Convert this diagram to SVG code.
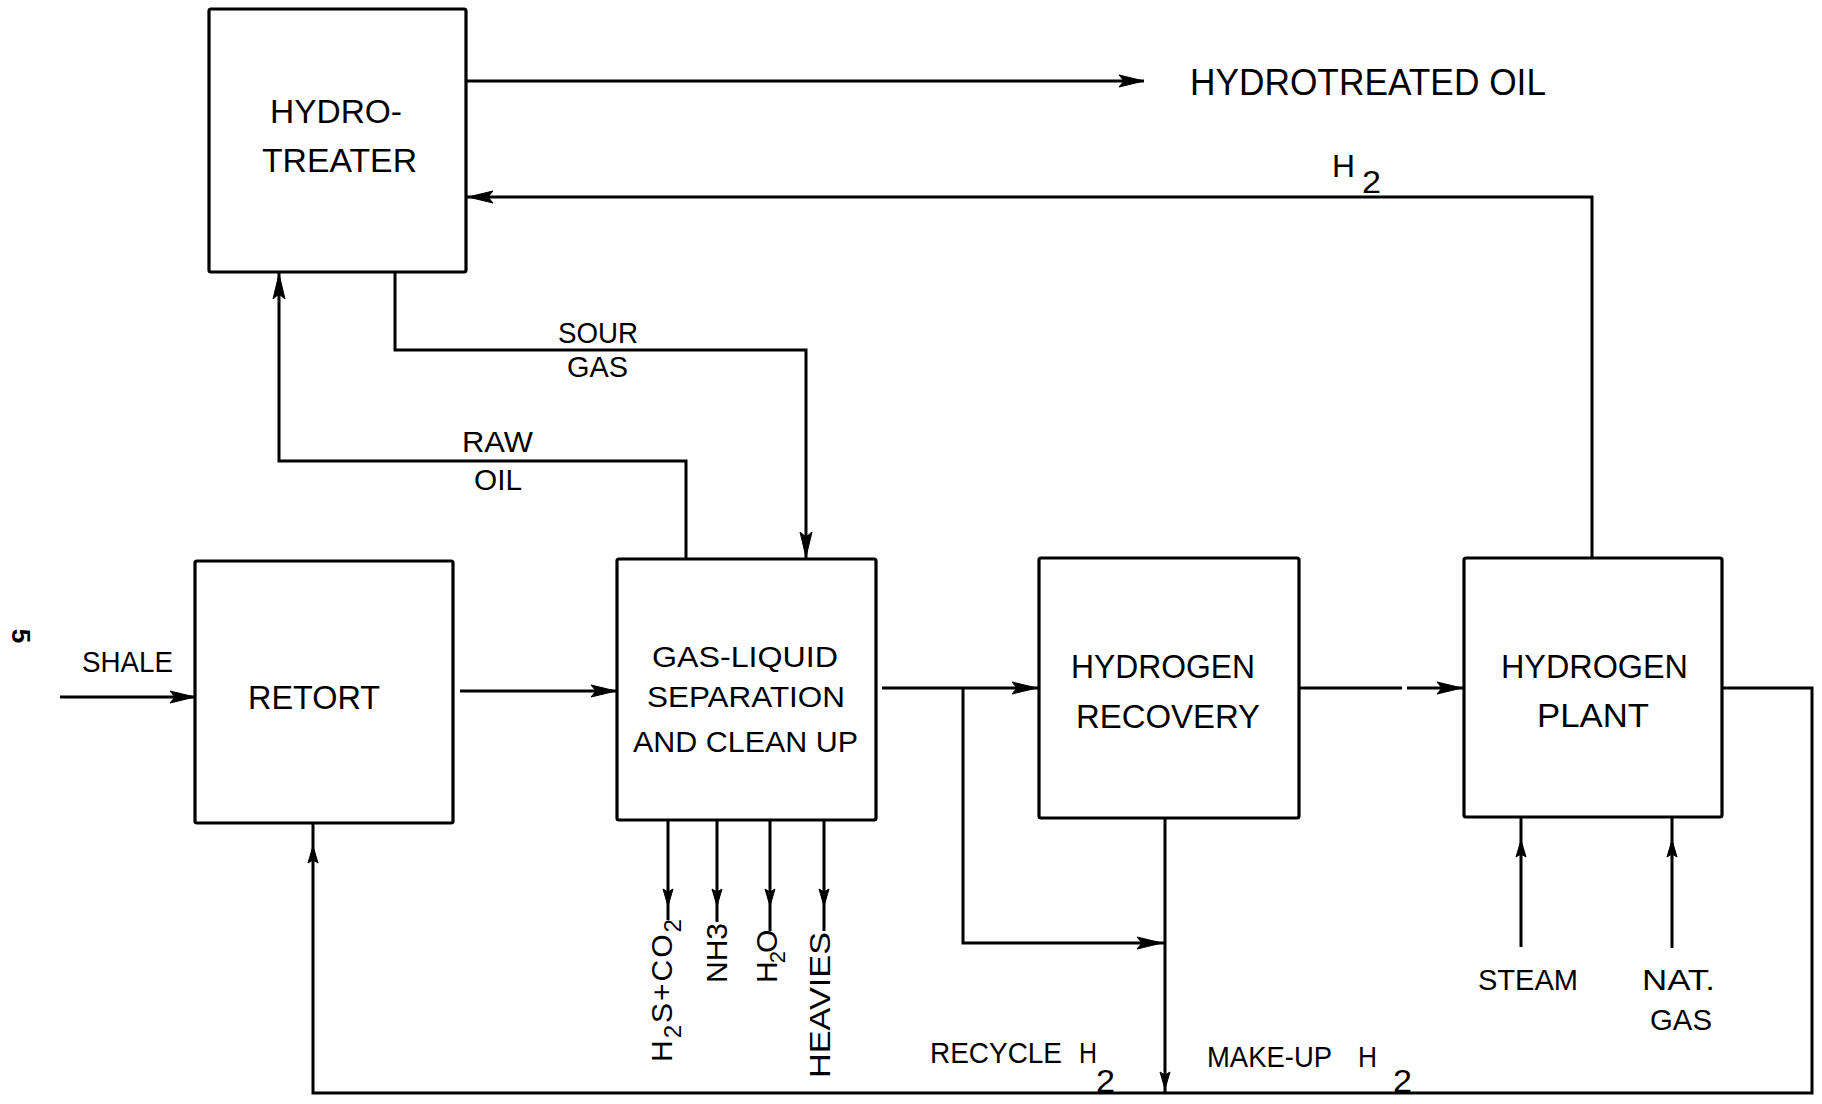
<svg xmlns="http://www.w3.org/2000/svg" xmlns:xlink="http://www.w3.org/1999/xlink" width="1822" height="1104" viewBox="0 0 1822 1104">
<style>
.box{fill:#fff;stroke:#000;stroke-width:3.2}
.ln{fill:none;stroke:#000;stroke-width:3}
.t{font-family:"Liberation Sans",Arial,sans-serif;fill:#000;font-size:34px}
.s{font-size:30px}
.ah{fill:#000;stroke:#000;stroke-width:1}
</style>
<defs>
<path id="ah" class="ah" d="M0,0 L-25,-6 L-20,0 L-25,6 Z"/>
<path id="ah2" class="ah" d="M0,0 L-17,-5 L-14,0 L-17,5 Z"/>
</defs>
<rect width="1822" height="1104" fill="#fff"/>

<g id="connectors">
<path class="ln" d="M60,697 H195"/>
<path class="ln" d="M460,691 H617"/>
<path class="ln" d="M882,688 H1039"/>
<path class="ln" d="M1298,688 H1402 M1407,688 H1463"/>
<path class="ln" d="M686,559 V461 H279 V272"/>
<path class="ln" d="M395,272 V350 H806 V559"/>
<path class="ln" d="M466,81 H1144"/>
<path class="ln" d="M1592,558 V197 H466"/>
<path class="ln" d="M668,820 V920 M717,820 V922 M770,820 V931 M824,820 V931"/>
<path class="ln" d="M963,688 V943 H1164"/>
<path class="ln" d="M1165,818 V1093"/>
<path class="ln" d="M1722,688 H1812 V1093 H313 V823"/>
<path class="ln" d="M1521,947 V817 M1672,948 V817"/>
<use xlink:href="#ah" transform="translate(195,697)"/>
<use xlink:href="#ah" transform="translate(616,691)"/>
<use xlink:href="#ah" transform="translate(1037,688)"/>
<use xlink:href="#ah" transform="translate(1462,688)"/>
<use xlink:href="#ah" transform="translate(279,274) rotate(-90)"/>
<use xlink:href="#ah" transform="translate(806,557) rotate(90)"/>
<use xlink:href="#ah" transform="translate(1144,81)"/>
<use xlink:href="#ah" transform="translate(468,197) rotate(180)"/>
<use xlink:href="#ah2" transform="translate(668,906) rotate(90)"/>
<use xlink:href="#ah2" transform="translate(717,906) rotate(90)"/>
<use xlink:href="#ah2" transform="translate(770,906) rotate(90)"/>
<use xlink:href="#ah2" transform="translate(824,906) rotate(90)"/>
<use xlink:href="#ah" transform="translate(1162,943)"/>
<use xlink:href="#ah2" transform="translate(1165,1089) rotate(90)"/>
<use xlink:href="#ah2" transform="translate(313,846) rotate(-90)"/>
<use xlink:href="#ah2" transform="translate(1521,840) rotate(-90)"/>
<use xlink:href="#ah2" transform="translate(1672,840) rotate(-90)"/>
</g>

<g id="hydrotreater">
<rect class="box" x="209" y="9" width="257" height="263" rx="2"/>
<text class="t" x="270" y="123" textLength="132" lengthAdjust="spacingAndGlyphs">HYDRO-</text>
<text class="t" x="262" y="172" textLength="155" lengthAdjust="spacingAndGlyphs">TREATER</text>
</g>

<g id="retort">
<rect class="box" x="195" y="561" width="258" height="262" rx="2"/>
<text class="t" x="248" y="709" textLength="132" lengthAdjust="spacingAndGlyphs">RETORT</text>
</g>

<g id="gas-liquid-separation">
<rect class="box" x="617" y="559" width="259" height="261" rx="2"/>
<text class="t s" x="652" y="667" textLength="186" lengthAdjust="spacingAndGlyphs">GAS-LIQUID</text>
<text class="t s" x="647" y="707" textLength="198" lengthAdjust="spacingAndGlyphs">SEPARATION</text>
<text class="t s" x="633" y="752" textLength="225" lengthAdjust="spacingAndGlyphs">AND CLEAN UP</text>
</g>

<g id="hydrogen-recovery">
<rect class="box" x="1039" y="558" width="260" height="260" rx="2"/>
<text class="t" x="1071" y="678" textLength="184" lengthAdjust="spacingAndGlyphs">HYDROGEN</text>
<text class="t" x="1076" y="728" textLength="184" lengthAdjust="spacingAndGlyphs">RECOVERY</text>
</g>

<g id="hydrogen-plant">
<rect class="box" x="1464" y="558" width="258" height="259" rx="2"/>
<text class="t" x="1501" y="678" textLength="187" lengthAdjust="spacingAndGlyphs">HYDROGEN</text>
<text class="t" x="1537" y="727" textLength="112" lengthAdjust="spacingAndGlyphs">PLANT</text>
</g>

<g id="labels">
<text class="t" x="1190" y="95" font-size="37" textLength="356" lengthAdjust="spacingAndGlyphs" style="font-size:37px">HYDROTREATED OIL</text>
<text class="t" x="1332" y="177" textLength="23" lengthAdjust="spacingAndGlyphs" style="font-size:32px">H</text>
<text class="t" x="1362" y="193" textLength="19" lengthAdjust="spacingAndGlyphs" style="font-size:32px">2</text>
<text class="t s" x="82" y="672" textLength="91" lengthAdjust="spacingAndGlyphs">SHALE</text>
<text class="t s" x="558" y="343" textLength="80" lengthAdjust="spacingAndGlyphs">SOUR</text>
<text class="t s" x="567" y="377" textLength="61" lengthAdjust="spacingAndGlyphs">GAS</text>
<text class="t s" x="462" y="452" textLength="71" lengthAdjust="spacingAndGlyphs">RAW</text>
<text class="t s" x="474" y="490" textLength="48" lengthAdjust="spacingAndGlyphs">OIL</text>
<text class="t s" x="1478" y="990" textLength="100" lengthAdjust="spacingAndGlyphs">STEAM</text>
<text class="t s" x="1642" y="990" textLength="73" lengthAdjust="spacingAndGlyphs">NAT.</text>
<text class="t s" x="1650" y="1030" textLength="62" lengthAdjust="spacingAndGlyphs">GAS</text>
<text class="t s" x="930" y="1063" textLength="132" lengthAdjust="spacingAndGlyphs">RECYCLE</text>
<text class="t s" x="1079" y="1063" textLength="18" lengthAdjust="spacingAndGlyphs">H</text>
<text class="t" x="1096" y="1092" textLength="19" lengthAdjust="spacingAndGlyphs" style="font-size:32px">2</text>
<text class="t s" x="1207" y="1067" textLength="125" lengthAdjust="spacingAndGlyphs">MAKE-UP</text>
<text class="t s" x="1358" y="1067" textLength="19" lengthAdjust="spacingAndGlyphs">H</text>
<text class="t" x="1393" y="1092" textLength="19" lengthAdjust="spacingAndGlyphs" style="font-size:32px">2</text>
<text class="t s" transform="translate(672,1062) rotate(-90)" letter-spacing="2">H<tspan dy="9" font-size="24">2</tspan><tspan dy="-9">S+CO</tspan><tspan dy="9" font-size="24">2</tspan></text>
<text class="t s" transform="translate(727,983) rotate(-90)" textLength="60" lengthAdjust="spacingAndGlyphs">NH3</text>
<text class="t s" transform="translate(777,983) rotate(-90)" letter-spacing="-2">H<tspan dy="8" font-size="22">2</tspan><tspan dy="-8">O</tspan></text>
<text class="t s" transform="translate(830,1078) rotate(-90)" textLength="146" lengthAdjust="spacingAndGlyphs">HEAVIES</text>
<text class="t" transform="translate(12,636) rotate(90)" text-anchor="middle" font-weight="bold" style="font-size:26px">5</text>
</g>
</svg>
